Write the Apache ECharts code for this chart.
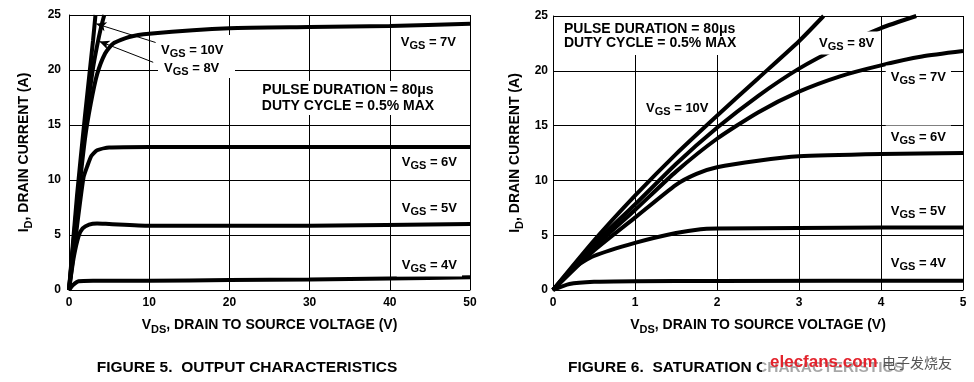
<!DOCTYPE html>
<html><head><meta charset="utf-8">
<script src="https://cdn.jsdelivr.net/npm/echarts@6/dist/echarts.min.js"></script>
<style>html,body{margin:0;background:#fff}#c{width:974px;height:382px}</style>
</head><body><div id="c"></div><script>
// ---------- data: FIGURE 5 (VDS 0..50 V) ----------
const fig5Ticks = { xMin: 0, xMax: 50, xStep: 10, yMin: 0, yMax: 25, yStep: 5 };
const fig5Vgs10 = [[0,0],[1,8.6],[2,15.9],[3,22.7],[3.3,25]];
const fig5Vgs8  = [[0,0],[1,7.8],[2,14.8],[3,20.2],[3.5,22.2],[4,23.9],[4.4,25]];
const fig5Vgs7  = [[0,0],[1,7.3],[2,13.8],[2.7,16.9],[3.5,19.6],[4.5,21.5],[5.5,22.4],[7.5,23.0],[10,23.3],[20,23.8],[30,23.9],[40,24.0],[50,24.2]];
const fig5Vgs6  = [[0,0],[1,5.8],[1.8,10.2],[2.3,11.3],[2.8,12.2],[3.5,12.7],[5,12.95],[10,13.0],[30,13.0],[50,13.0]];
const fig5Vgs5  = [[0,0],[0.6,3.0],[1.2,4.9],[1.7,5.6],[2.5,5.95],[3.5,6.05],[5,6.0],[10,5.85],[30,5.85],[50,6.0]];
const fig5Vgs4  = [[0,0],[0.5,0.45],[1.2,0.8],[3,0.85],[10,0.85],[20,0.9],[30,0.95],[40,1.05],[50,1.15]];
// ---------- data: FIGURE 6 (VDS 0..5 V) ----------
const fig6Ticks = { xMin: 0, xMax: 5, xStep: 1, yMin: 0, yMax: 25, yStep: 5 };
const fig6Vgs10 = [[0,0],[0.5,4.5],[1,8.6],[1.5,12.4],[2,15.9],[2.5,19.3],[3,22.7],[3.3,25]];
const fig6Vgs8  = [[0,0],[0.5,4.2],[1,7.8],[1.5,11.5],[2,14.8],[2.5,17.7],[3,20.2],[3.5,22.2],[4,23.9],[4.43,25]];
const fig6Vgs7  = [[0,0],[0.5,3.9],[1,7.3],[1.5,10.8],[2,13.8],[2.5,16.2],[3,18.1],[3.5,19.5],[4,20.5],[4.5,21.3],[5,21.8]];
const fig6Vgs6  = [[0,0],[0.5,3.6],[1,6.6],[1.5,9.6],[1.75,10.6],[2,11.2],[2.5,11.8],[3,12.2],[4,12.4],[5,12.5]];
const fig6Vgs5  = [[0,0],[0.25,2.0],[0.5,3.1],[1,4.3],[1.5,5.2],[1.8,5.55],[2,5.6],[3,5.65],[4,5.7],[5,5.7]];
const fig6Vgs4  = [[0,0],[0.2,0.55],[0.5,0.75],[1,0.8],[2,0.82],[5,0.85]];
// arrows (data coordinates of figure 5): [from, to]
const arrow10 = [[10.8,22.5],[3.4,24.2]];
const arrow8  = [[10.5,20.7],[3.8,22.6]];

const FONT = "'Liberation Sans', Arial, Helvetica, sans-serif";
const chart = echarts.init(document.getElementById('c'), null, {renderer:'canvas'});

const rich = {
  a: { fontFamily: FONT, fontWeight: 'bold', fontSize: 13, color: '#000', lineHeight: 13 },
  s: { fontFamily: FONT, fontWeight: 'bold', fontSize: 11, color: '#000', lineHeight: 19, verticalAlign: 'bottom' }
};
const nameRich = {
  a: { fontFamily: FONT, fontWeight: 'bold', fontSize: 14, color: '#000', lineHeight: 14 },
  s: { fontFamily: FONT, fontWeight: 'bold', fontSize: 11, color: '#000', lineHeight: 20, verticalAlign: 'bottom' }
};

function xAxisCfg(g, t, name) {
  return {
    type: 'value', gridIndex: g, min: t.xMin, max: t.xMax, interval: t.xStep,
    axisLine: { show: true, lineStyle: { color: '#000', width: 1 } },
    axisTick: { show: false },
    splitLine: { show: true, lineStyle: { color: '#000', width: 1 } },
    axisLabel: { color: '#000', fontFamily: FONT, fontWeight: 'bold', fontSize: 12, margin: 7 },
    name: name, nameLocation: 'middle', nameGap: 25,
    nameTextStyle: { rich: nameRich }
  };
}
function yAxisCfg(g, t, name, gap, margin) {
  return {
    type: 'value', gridIndex: g, min: t.yMin, max: t.yMax, interval: t.yStep,
    axisLine: { show: true, lineStyle: { color: '#000', width: 1 } },
    axisTick: { show: false },
    splitLine: { show: true, lineStyle: { color: '#000', width: 1 } },
    axisLabel: { color: '#000', fontFamily: FONT, fontWeight: 'bold', fontSize: 12, margin: margin },
    name: name, nameLocation: 'middle', nameGap: gap,
    nameTextStyle: { rich: nameRich }
  };
}
function curve(idx, data, extra) {
  return Object.assign({
    type: 'line', xAxisIndex: idx, yAxisIndex: idx, data: data,
    showSymbol: false, smooth: 0.2, clip: true,
    lineStyle: { color: '#000', width: 4 }, z: 3, silent: true
  }, extra || {});
}
function vgs(v, x, y, align, bg) {
  return {
    type: 'text', z: 100, x: x, y: y,
    style: {
      text: '{a|V}{s|GS}{a| = ' + v + '}', rich: rich,
      align: align, textAlign: align, verticalAlign: 'middle', textVerticalAlign: 'middle',
      backgroundColor: bg ? '#fff' : null, padding: bg ? [2, 5] : 0
    }
  };
}
function plain(text, x, y, align, size, lh, bg, pad) {
  return {
    type: 'text', z: 100, x: x, y: y,
    style: {
      text: text, fill: '#000', font: 'bold ' + size + 'px ' + FONT, fontFamily: FONT, fontWeight: 'bold', fontSize: size,
      lineHeight: lh, align: align, textAlign: align, verticalAlign: 'middle', textVerticalAlign: 'middle',
      backgroundColor: bg ? '#fff' : null, padding: pad || 0
    }
  };
}

const yName = '{a|I}{s|D}{a|, DRAIN CURRENT (A)}';
const xName = '{a|V}{s|DS}{a|, DRAIN TO SOURCE VOLTAGE (V)}';

const arrowLine = (a) => ([
  { coord: a[0], symbol: 'none' },
  { coord: a[1], symbol: 'arrow', symbolSize: [7, 10] }
]);

chart.setOption({
  animation: false,
  backgroundColor: '#fff',
  grid: [
    { left: 69, right: 504, top: 15, bottom: 92 },
    { left: 553, right: 11, top: 16, bottom: 92 }
  ],
  xAxis: [ xAxisCfg(0, fig5Ticks, xName), xAxisCfg(1, fig6Ticks, xName) ],
  yAxis: [ yAxisCfg(0, fig5Ticks, yName, 35, 8), yAxisCfg(1, fig6Ticks, yName, 28, 5) ],
  series: [
    curve(0, fig5Vgs4), curve(0, fig5Vgs5), curve(0, fig5Vgs6), curve(0, fig5Vgs7),
    curve(0, fig5Vgs8),
    curve(0, fig5Vgs10, {
      markLine: {
        silent: true, animation: false, symbol: ['none', 'arrow'],
        lineStyle: { color: '#000', width: 1, type: 'solid' },
        label: { show: false },
        data: [ arrowLine(arrow10), arrowLine(arrow8) ]
      }
    }),
    curve(1, fig6Vgs4), curve(1, fig6Vgs5), curve(1, fig6Vgs6), curve(1, fig6Vgs7),
    curve(1, fig6Vgs8), curve(1, fig6Vgs10)
  ],
  graphic: [
    // figure 5 annotations
    { type: 'rect', z: 99, shape: { x: 158, y: 35, width: 77, height: 43 }, style: { fill: '#fff' } },
    vgs('10V', 161, 50, 'left', false),
    vgs('8V', 164, 68, 'left', false),
    vgs('7V', 461, 42, 'right', true),
    vgs('6V', 462, 162, 'right', true),
    vgs('5V', 462, 208, 'right', true),
    vgs('4V', 462, 265, 'right', true),
    plain('PULSE DURATION = 80\u03bcs\nDUTY CYCLE = 0.5% MAX', 348, 98, 'center', 14, 16, true, [1, 4]),
    // figure 6 annotations
    plain('PULSE DURATION = 80\u03bcs\nDUTY CYCLE = 0.5% MAX', 561, 36, 'left', 14, 14, true, [5, 3]),
    vgs('8V', 814, 43, 'left', true),
    vgs('7V', 951, 77, 'right', true),
    vgs('10V', 646, 108, 'left', false),
    vgs('6V', 951, 137, 'right', true),
    vgs('5V', 951, 211, 'right', true),
    vgs('4V', 951, 263, 'right', true),
    // captions
    plain('FIGURE 5.  OUTPUT CHARACTERISTICS', 247, 368, 'center', 15.5, 18, false),
    plain('FIGURE 6.  SATURATION CHARACTERISTICS', 568, 368, 'left', 15.5, 18, false),
    // watermark
    { type: 'rect', z: 101, shape: { x: 762, y: 350, width: 205, height: 30 }, style: { fill: 'rgba(255,255,255,0.65)' } },
    { type: 'text', z: 102, x: 770, y: 362, style: { text: 'elecfans.com', fill: '#e3232c', font: 'bold 17px ' + FONT, fontSize: 17, fontWeight: 'bold', fontFamily: FONT, align: 'left', textAlign: 'left', verticalAlign: 'middle', textVerticalAlign: 'middle' } },
    { type: 'text', z: 102, x: 882, y: 363, style: { text: '电子发烧友', fill: '#555', font: '14px "Noto Sans CJK SC"', fontSize: 14, fontFamily: 'Noto Sans CJK SC', align: 'left', textAlign: 'left', verticalAlign: 'middle', textVerticalAlign: 'middle' } }
  ]
});
</script></body></html>
